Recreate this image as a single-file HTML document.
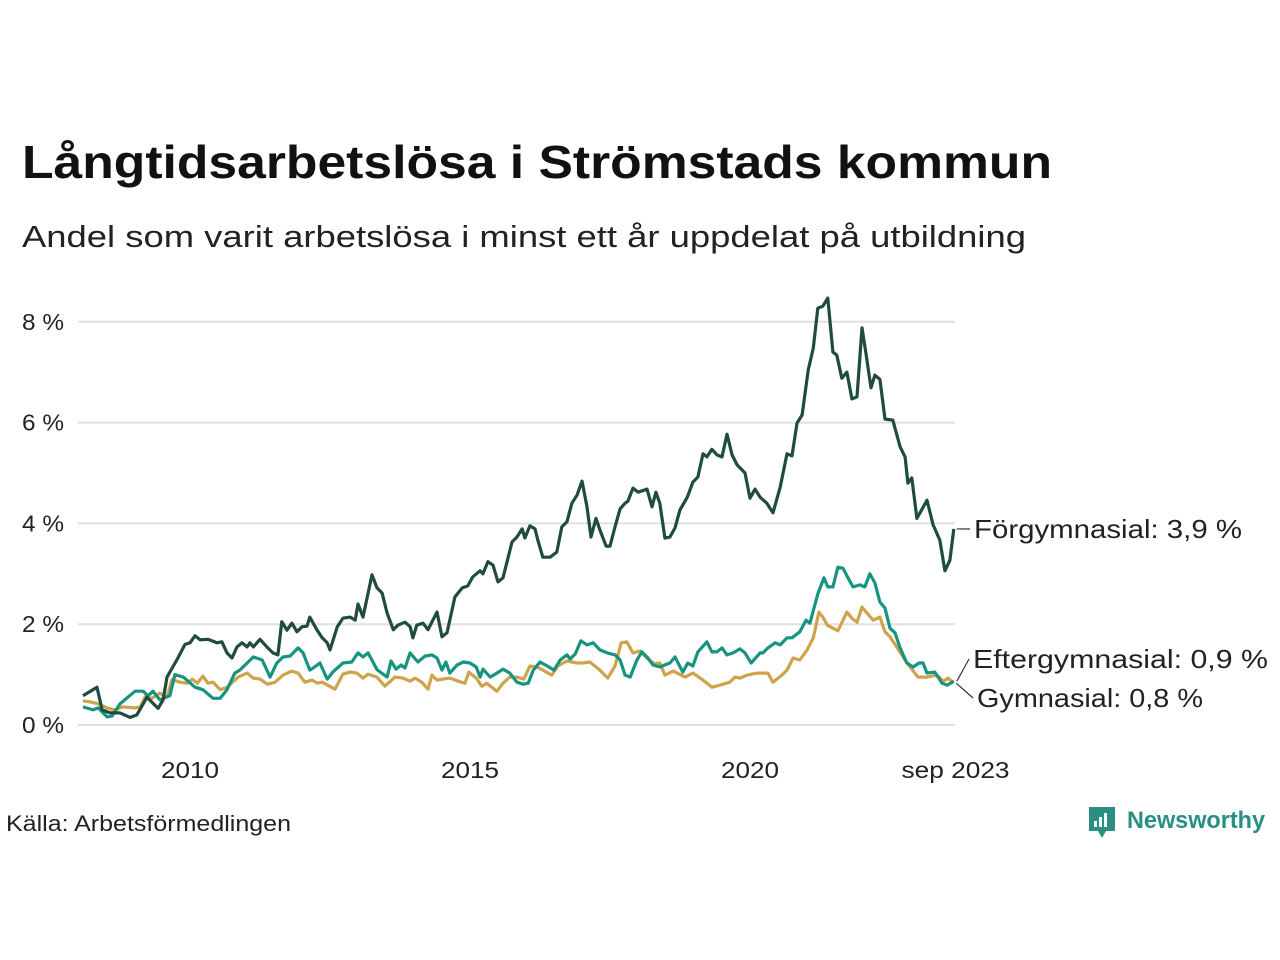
<!DOCTYPE html>
<html><head><meta charset="utf-8"><style>
body{margin:0;background:#fff;width:1280px;height:960px;overflow:hidden;font-family:"Liberation Sans",sans-serif;}
svg{position:absolute;left:0;top:0}
</style></head><body>
<svg width="1280" height="960" id="c">
<text x="22" y="178" font-size="46" font-weight="bold" fill="#111" textLength="1030" lengthAdjust="spacingAndGlyphs">Långtidsarbetslösa i Strömstads kommun</text>
<text x="22" y="247" font-size="31" fill="#222" textLength="1004" lengthAdjust="spacingAndGlyphs">Andel som varit arbetslösa i minst ett år uppdelat på utbildning</text>
<g id="grid"></g>
<g id="lines"></g>
<g id="labels"></g>
<text x="6" y="831" font-size="22" fill="#222" textLength="285" lengthAdjust="spacingAndGlyphs">Källa: Arbetsförmedlingen</text>
<g>
<path d="M1089 807h26v24h-9l-4 7-4-7h-9z" fill="#2a8f82"/>
<rect x="1094" y="821" width="3" height="6" fill="#fff"/><rect x="1099" y="817" width="3" height="10" fill="#fff"/><rect x="1104" y="813" width="3" height="14" fill="#fff"/>
<text x="1127" y="828" font-size="24" font-weight="bold" fill="#2a8f82" textLength="138" lengthAdjust="spacingAndGlyphs">Newsworthy</text>
</g>
</svg>
<script>
// time: years since Jan 2008
const yTicks=[0,2,4,6,8];
const yTickLabels=["0 %","2 %","4 %","6 %","8 %"];
const xTicks=[2,7,12,15.67];
const xTickLabels=["2010","2015","2020","sep 2023"];
const forgT=[.09,.34,.43,.57,.75,.93,1.05,1.23,1.43,1.52,1.59,1.77,1.91,2.0,2.09,2.18,2.32,2.48,2.57,2.66,2.75,2.84,2.93,3.02,3.07,3.13,3.25,3.39,3.48,3.57,3.64,3.73,3.82,3.91,4.0,4.09,4.14,4.27,4.36,4.45,4.5,4.63,4.73,4.86,4.95,5.0,5.09,5.25,5.34,5.43,5.52,5.63,5.71,5.84,5.93,5.98,6.05,6.16,6.25,6.41,6.5,6.59,6.73,6.86,6.96,7.05,7.18,7.23,7.32,7.41,7.5,7.59,7.75,7.84,7.93,7.98,8.07,8.16,8.21,8.3,8.43,8.55,8.64,8.73,8.82,8.91,9.0,9.09,9.16,9.25,9.32,9.43,9.5,9.59,9.68,9.77,9.82,9.91,10.0,10.16,10.25,10.32,10.39,10.48,10.57,10.66,10.75,10.88,10.98,11.07,11.16,11.23,11.32,11.41,11.5,11.59,11.68,11.77,11.91,12.0,12.09,12.18,12.3,12.41,12.54,12.66,12.75,12.84,12.93,13.04,13.13,13.21,13.3,13.39,13.48,13.55,13.64,13.73,13.82,13.91,14.0,14.07,14.16,14.23,14.32,14.41,14.55,14.68,14.77,14.82,14.89,14.98,15.16,15.27,15.39,15.48,15.57,15.64];
const forgV=[.58,.75,.3,.24,.24,.15,.2,.55,.33,.5,.95,1.3,1.6,1.63,1.77,1.69,1.7,1.63,1.65,1.43,1.33,1.55,1.63,1.55,1.63,1.55,1.7,1.53,1.43,1.39,2.05,1.88,2.02,1.85,1.95,1.96,2.14,1.88,1.73,1.63,1.49,1.95,2.12,2.14,2.08,2.4,2.14,2.98,2.72,2.62,2.22,1.89,1.98,2.04,1.95,1.73,1.98,2.02,1.89,2.24,1.75,1.83,2.54,2.72,2.76,2.94,3.06,3.0,3.24,3.17,2.84,2.92,3.63,3.73,3.89,3.71,3.95,3.89,3.67,3.33,3.33,3.43,3.93,4.03,4.4,4.56,4.84,4.33,3.73,4.1,3.87,3.55,3.55,3.93,4.29,4.4,4.44,4.7,4.62,4.68,4.33,4.62,4.4,3.71,3.73,3.91,4.27,4.52,4.82,4.92,5.38,5.32,5.47,5.36,5.32,5.77,5.36,5.16,5.0,4.5,4.68,4.52,4.4,4.21,4.72,5.38,5.34,5.99,6.15,7.04,7.48,8.27,8.31,8.47,7.4,7.34,6.88,7.0,6.47,6.51,7.88,7.38,6.69,6.94,6.86,6.07,6.05,5.52,5.32,4.8,4.9,4.1,4.46,3.97,3.67,3.06,3.27,3.89];
const efterT=[.09,.27,.36,.52,.61,.75,1.02,1.16,1.25,1.34,1.46,1.64,1.73,1.88,2.09,2.23,2.41,2.54,2.66,2.8,2.89,3.13,3.29,3.43,3.55,3.66,3.79,3.93,4.02,4.14,4.2,4.32,4.45,4.55,4.73,4.89,5.0,5.09,5.18,5.34,5.52,5.59,5.68,5.77,5.84,5.93,6.07,6.2,6.32,6.41,6.5,6.57,6.64,6.77,6.88,7.0,7.11,7.18,7.23,7.36,7.48,7.59,7.71,7.84,7.95,8.04,8.13,8.25,8.38,8.5,8.61,8.73,8.79,8.88,8.98,9.09,9.2,9.32,9.45,9.59,9.68,9.77,9.86,9.98,10.07,10.16,10.27,10.39,10.52,10.57,10.66,10.8,10.89,10.98,11.07,11.23,11.32,11.41,11.5,11.59,11.7,11.82,11.91,12.02,12.18,12.23,12.32,12.45,12.54,12.66,12.75,12.89,13.0,13.07,13.21,13.32,13.39,13.48,13.57,13.66,13.73,13.84,13.96,14.05,14.14,14.23,14.32,14.41,14.5,14.59,14.68,14.8,14.91,15.02,15.09,15.16,15.3,15.43,15.52,15.61,15.64];
const efterV=[.36,.3,.34,.16,.18,.42,.67,.67,.58,.67,.5,.58,1.0,.95,.75,.7,.53,.53,.7,1.03,1.09,1.35,1.29,.95,1.23,1.35,1.37,1.53,1.43,1.09,1.13,1.23,.91,1.05,1.23,1.25,1.43,1.35,1.43,1.1,.95,1.27,1.11,1.19,1.13,1.43,1.25,1.37,1.39,1.33,1.09,1.25,1.03,1.19,1.25,1.23,1.15,.95,1.11,.95,1.03,1.11,1.03,.85,.81,.83,1.09,1.25,1.17,1.09,1.29,1.39,1.31,1.41,1.67,1.59,1.63,1.49,1.43,1.39,1.29,.99,.95,1.29,1.45,1.35,1.19,1.15,1.21,1.23,1.35,1.05,1.23,1.17,1.45,1.65,1.45,1.45,1.53,1.39,1.43,1.51,1.43,1.23,1.43,1.43,1.53,1.63,1.59,1.73,1.73,1.85,2.08,2.02,2.6,2.92,2.74,2.74,3.13,3.11,2.96,2.74,2.78,2.74,3.0,2.82,2.44,2.32,1.92,1.83,1.53,1.23,1.15,1.23,1.23,1.03,1.05,.83,.79,.85,.87];
const gymT=[.09,.21,.36,.52,.66,.8,1.02,1.11,1.2,1.32,1.46,1.59,1.68,1.82,1.95,2.04,2.13,2.23,2.32,2.41,2.54,2.66,2.86,3.02,3.13,3.25,3.38,3.52,3.66,3.82,3.93,4.05,4.18,4.27,4.36,4.59,4.73,4.86,4.98,5.09,5.18,5.34,5.48,5.66,5.8,5.93,6.02,6.14,6.25,6.32,6.41,6.52,6.64,6.79,6.91,6.98,7.11,7.21,7.3,7.39,7.48,7.59,7.71,7.84,7.96,8.07,8.2,8.3,8.46,8.57,8.73,8.91,9.02,9.14,9.32,9.46,9.59,9.7,9.8,9.91,10.04,10.16,10.3,10.39,10.48,10.63,10.84,10.98,11.16,11.32,11.46,11.64,11.73,11.82,11.95,12.13,12.32,12.41,12.57,12.66,12.77,12.89,13.02,13.13,13.23,13.3,13.38,13.57,13.73,13.82,13.91,14.0,14.09,14.2,14.32,14.41,14.5,14.63,14.77,14.89,15.0,15.16,15.34,15.45,15.54,15.63];
const gymV=[.48,.46,.42,.34,.3,.36,.34,.36,.56,.53,.63,.56,.9,.85,.83,.91,.83,.97,.83,.85,.7,.75,.95,1.03,.93,.91,.81,.85,.99,1.07,1.03,.85,.89,.83,.85,.71,1.01,1.05,1.03,.93,1.01,.95,.77,.95,.93,.87,.93,.85,.71,.99,.89,.91,.93,.87,.83,1.05,.93,.77,.83,.75,.67,.83,.95,.95,.91,1.17,1.15,1.09,.99,1.17,1.27,1.23,1.23,1.25,1.09,.93,1.17,1.63,1.65,1.43,1.47,1.33,1.21,1.23,.99,1.07,.95,1.03,.89,.75,.79,.85,.95,.93,.99,1.03,1.03,.85,.99,1.09,1.33,1.29,1.49,1.73,2.24,2.14,1.98,1.87,2.24,2.12,2.04,2.34,2.22,2.08,2.14,1.85,1.75,1.53,1.29,1.11,.95,.95,.99,.87,.93,.83];

const NS='http://www.w3.org/2000/svg';
const X0=78,XPY=56,Y0=725,YPU=50.4,XL=78,XR=955;
const sx=t=>X0+t*XPY, sy=v=>Y0-v*YPU;
function mk(tag,attrs,parent,txt){const e=document.createElementNS(NS,tag);for(const k in attrs)e.setAttribute(k,attrs[k]);if(txt!==undefined)e.textContent=txt;parent.appendChild(e);return e;}
const grid=document.getElementById('grid');
yTicks.forEach((v,i)=>{
  const l=mk('line',{x1:XL,x2:XR,y1:sy(v),y2:sy(v),stroke:'#e0e0e0','stroke-width':2},grid);
  
  
  const t=mk('text',{x:22,y:sy(v)+8,'font-size':23,fill:'#222',textLength:42,lengthAdjust:'spacingAndGlyphs'},grid,yTickLabels[i]);
  
  
});
xTicks.forEach((v,i)=>{
  const w=xTickLabels[i].length>4?108:58;
  const t=mk('text',{x:sx(v)-w/2,y:778,'font-size':23,fill:'#222',textLength:w,lengthAdjust:'spacingAndGlyphs'},grid,xTickLabels[i]);
  
  
});
const lines=document.getElementById('lines');
function draw(T,V,color,name){
  const d=T.map((t,i)=>(i?'L':'M')+sx(t).toFixed(1)+' '+sy(V[i]).toFixed(1)).join('');
  const p=mk('path',{d:d,fill:'none',stroke:color,'stroke-width':3.2,'stroke-linejoin':'round'},lines);
  
  
}
draw(gymT,gymV,'#cfa24c','line-gymnasial');
draw(efterT,efterV,'#16947f','line-eftergymnasial');
draw(forgT,forgV,'#1f4b40','line-forgymnasial');
const lab=document.getElementById('labels');
function label(T,V,ly,txt,name,lx,w){
  const n=T.length-1,x=sx(T[n]),y=sy(V[n]);
  const c=mk('path',{d:`M${x+3} ${y} L${lx-4} ${ly}`,stroke:'#333','stroke-width':1.2,fill:'none'},lab);
  
  
  const t=mk('text',{x:lx,y:ly+9,'font-size':26,fill:'#222',textLength:w,lengthAdjust:'spacingAndGlyphs'},lab,txt);
  
  
}
label(forgT,forgV,529,'Förgymnasial: '+forgV[forgV.length-1].toFixed(1).replace('.',',')+' %','label-forgymnasial',974,268);
label(efterT,efterV,659,'Eftergymnasial: 0,9 %','label-eftergymnasial',973,295);
label(gymT,gymV,698,'Gymnasial: 0,8 %','label-gymnasial',977,226);
</script>
</body></html>
